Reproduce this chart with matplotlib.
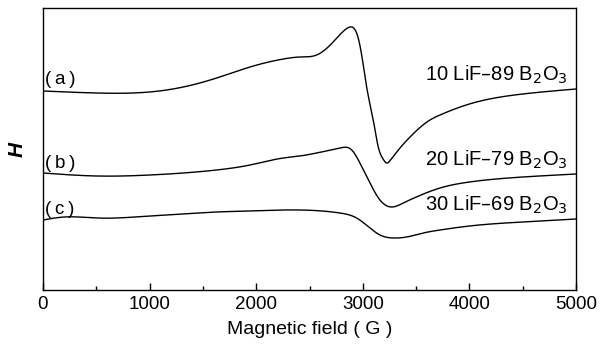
import matplotlib
matplotlib.use("Agg")
import matplotlib.pyplot as plt
from matplotlib.ticker import MultipleLocator
import numpy as np

plt.rcParams['font.family'] = ['Liberation Sans', 'DejaVu Sans']

# Magnetic field (G) sample points (signal in arbitrary units)
field_a = [0, 500, 1000, 1316, 1629, 1942, 2254, 2411, 2567, 2722, 2820, 2880,
           2957, 3000, 3036, 3098, 3145, 3190, 3223, 3260, 3318, 3443, 3630,
           3724, 4000, 4500, 5000]
signal_a = [199, 197, 198, 203, 212, 223, 231, 233, 235, 248, 259, 263,
            252, 228, 203, 170, 143, 131, 127, 130, 138, 153, 170,
            175, 186, 196, 201]

field_b = [0, 500, 1004, 1316, 1629, 1942, 2254, 2411, 2567, 2786, 2896, 2973, 3067,
           3161, 3270, 3380, 3502, 3724, 4000, 4500, 5000]
signal_b = [117, 114, 115, 117, 120, 125, 132, 134, 137, 142, 140, 127, 107,
            90, 83, 87, 93, 102, 108, 113, 116]

field_c = [0, 200, 500, 1004, 1316, 1629, 1942, 2254, 2411, 2786, 2942, 3067, 3161,
           3286, 3411, 3567, 3724, 4000, 4500, 5000]
signal_c = [70, 73, 72, 74, 76, 78, 79, 80, 80, 77, 72, 62, 55,
            52, 53, 57, 60, 64, 68, 71]

left_labels = ["(\u2009a\u2009)", "(\u2009b\u2009)", "(\u2009c\u2009)"]
right_labels = [r"10 LiF–89 B$_2$O$_3$", r"20 LiF–79 B$_2$O$_3$", r"30 LiF–69 B$_2$O$_3$"]


def spline(x, y, xn):
    """Natural cubic spline through the read points (for a smooth drawn curve)."""
    x = np.asarray(x, float); y = np.asarray(y, float)
    n = len(x); h = np.diff(x)
    A = np.zeros((n, n)); b = np.zeros(n)
    A[0, 0] = A[-1, -1] = 1
    for i in range(1, n - 1):
        A[i, i - 1] = h[i - 1]; A[i, i] = 2 * (h[i - 1] + h[i]); A[i, i + 1] = h[i]
        b[i] = 6 * ((y[i + 1] - y[i]) / h[i] - (y[i] - y[i - 1]) / h[i - 1])
    M = np.linalg.solve(A, b)
    idx = np.clip(np.searchsorted(x, xn) - 1, 0, n - 2)
    x0 = x[idx]; x1 = x[idx + 1]; hh = h[idx]
    return (M[idx] * (x1 - xn) ** 3 / (6 * hh) + M[idx + 1] * (xn - x0) ** 3 / (6 * hh)
            + (y[idx] / hh - M[idx] * hh / 6) * (x1 - xn)
            + (y[idx + 1] / hh - M[idx + 1] * hh / 6) * (xn - x0))


fig = plt.figure(figsize=(6.02, 3.53), dpi=100)
ax = fig.add_axes([43 / 602, 1 - 290 / 353, 533 / 602, 282 / 353])

xs = np.linspace(0, 5000, 1500)
for fx, sy in [(field_a, signal_a), (field_b, signal_b), (field_c, signal_c)]:
    ax.plot(xs, spline(fx, sy, xs), color='black', lw=1.0)

ax.set_xlim(0, 5000)
ax.set_ylim(0, 282)
ax.xaxis.set_major_locator(MultipleLocator(1000))
ax.xaxis.set_minor_locator(MultipleLocator(500))
ax.tick_params(axis='x', which='major', direction='in', length=5, width=1,
               labelsize=13.5, pad=4)
ax.tick_params(axis='x', which='minor', direction='in', length=3, width=1)
ax.set_yticks([])
for s in ax.spines.values():
    s.set_linewidth(1.0)

label_y = [210, 127, 80]
right_y = [215, 130, 85]
for ly, ry, l, r in zip(label_y, right_y, left_labels, right_labels):
    ax.text(20, ly, l, fontsize=13.5, ha='left', va='center')
    ax.text(4925, ry, r, fontsize=14.5, ha='right', va='center')

ax.set_xlabel("Magnetic field ( G )", fontsize=14, labelpad=6)
ax.set_ylabel("H", fontsize=15, fontweight='bold', fontstyle='italic', labelpad=12)

fig.savefig("out.png", dpi=100)
